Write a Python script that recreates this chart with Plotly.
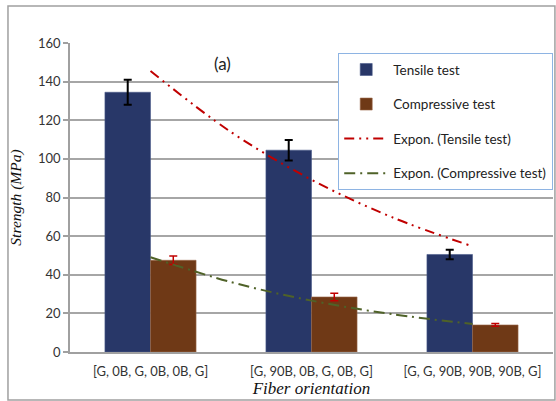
import plotly.graph_objects as go

categories = ["[G, 0B, G, 0B, 0B, G]", "[G, 90B, 0B, G, 0B, G]", "[G, G, 90B, 90B, 90B, G]"]
cat_pos = [1, 2, 3]
tensile = [134.5, 104.5, 50.5]
tensile_err = [6.5, 5.3, 2.5]
compressive = [47.5, 28.5, 14.0]
compressive_err = [2.2, 1.9, 0.7]
trend_x = [1, 1.5, 2, 2.5, 3]
tensile_trend = [145.5, 113.9, 89.2, 69.8, 54.7]
compressive_trend = [49.1, 36.2, 26.6, 19.6, 14.5]
y_ticks = [0, 20, 40, 60, 80, 100, 120, 140, 160]

navy = "#283768"
brown = "#6F3916"
tick_font = dict(family="Lato, 'Open Sans', sans-serif", size=13, color="#333333")
serif = "'Liberation Serif', 'DejaVu Serif', serif"

fig = go.Figure()
fig.add_trace(go.Bar(
    x=cat_pos, y=tensile, name="Tensile test", legendgroup="a",
    marker=dict(color=navy, line=dict(color="#4a5a8a", width=0.6)),
    error_y=dict(type="data", array=tensile_err, color="black", thickness=2, width=4),
    offsetgroup="t",
))
fig.add_trace(go.Bar(
    x=cat_pos, y=compressive, name="Compressive test", legendgroup="b",
    marker=dict(color=brown, line=dict(color="#9a6a4a", width=0.6)),
    error_y=dict(type="data", array=compressive_err, color="#C00000", thickness=1.5, width=4),
    offsetgroup="c",
))
fig.add_trace(go.Scatter(
    x=trend_x, y=tensile_trend, mode="lines", name="Expon. (Tensile test)", legendgroup="c",
    line=dict(color="#C00000", width=2, dash="10px,5px,2px,5px,2px,5px", shape="spline"),
))
fig.add_trace(go.Scatter(
    x=trend_x, y=compressive_trend, mode="lines", name="Expon. (Compressive test)", legendgroup="d",
    line=dict(color="#4F6228", width=2, dash="11px,5px,2px,5px", shape="spline"),
))

fig.add_annotation(x=1.445, y=149.4, xref="x", yref="y", text="(a)", showarrow=False,
                   font=dict(family="Lato, sans-serif", size=17, color="#222222"))

fig.add_shape(type="rect", xref="paper", yref="paper", x0=-0.1284, x1=1.004, y0=-0.1553, y1=1.1197,
              line=dict(color="#A0A0A0", width=1.5), layer="below")

fig.update_layout(
    width=556, height=401,
    margin=dict(l=70, r=3, t=43, b=49),
    paper_bgcolor="white", plot_bgcolor="white",
    barmode="group", bargap=0.434, bargroupgap=0,
    showlegend=True,
    legend=dict(
        x=0.5549, y=0.9676, xanchor="left", yanchor="top",
        bgcolor="white", bordercolor="#8EB4E3", borderwidth=1.2,
        font=dict(family="Lato, 'Open Sans', sans-serif", size=13.5, color="#222222"),
        traceorder="grouped", tracegroupgap=14, itemwidth=44,
    ),
    xaxis=dict(
        range=[0.5, 3.5], tickmode="array", tickvals=cat_pos, ticktext=categories,
        showgrid=False, showline=True, linecolor="#A0A0A0", linewidth=1.5,
        ticks="", ticklabelstandoff=7, tickfont=tick_font, zeroline=False,
        title=dict(text="<i>Fiber orientation</i>", standoff=2,
                   font=dict(family=serif, size=17, color="#111111")),
    ),
    yaxis=dict(
        range=[0, 160], tickmode="array", tickvals=y_ticks,
        showgrid=True, gridcolor="#A6A6A6", gridwidth=1.5,
        showline=True, linecolor="#A0A0A0", linewidth=1.5,
        ticks="outside", ticklen=5, tickcolor="#A0A0A0", tickwidth=1.5,
        tickfont=tick_font, zeroline=False,
        title=dict(text="<i>Strength (MPa)</i>", standoff=13,
                   font=dict(family=serif, size=15.5, color="#111111")),
    ),
)

fig.write_html("out.html", config={"displayModeBar": False},
               post_script="document.body.style.margin='0';document.body.style.overflow='hidden';")
